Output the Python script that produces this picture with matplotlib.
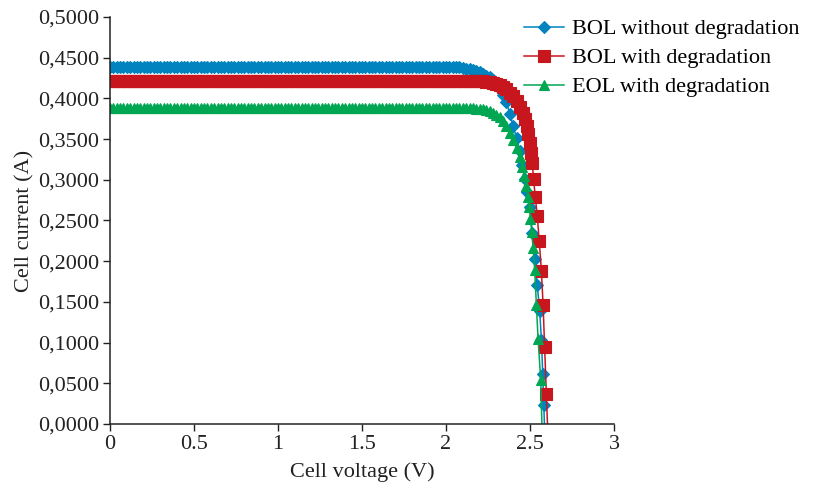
import matplotlib
matplotlib.use("Agg")
import matplotlib.pyplot as plt
from matplotlib.ticker import FixedLocator, FixedFormatter

plt.rcParams['font.family'] = ['Liberation Serif', 'DejaVu Serif']

# Shared voltage sweep (V) for the flat and knee part of the curves
voltage_sweep = [
    0.00, 0.02, 0.04, 0.06, 0.08, 0.10, 0.12, 0.14, 0.16, 0.18,
    0.20, 0.22, 0.24, 0.26, 0.28, 0.30, 0.32, 0.34, 0.36, 0.38,
    0.40, 0.42, 0.44, 0.46, 0.48, 0.50, 0.52, 0.54, 0.56, 0.58,
    0.60, 0.62, 0.64, 0.66, 0.68, 0.70, 0.72, 0.74, 0.76, 0.78,
    0.80, 0.82, 0.84, 0.86, 0.88, 0.90, 0.92, 0.94, 0.96, 0.98,
    1.00, 1.02, 1.04, 1.06, 1.08, 1.10, 1.12, 1.14, 1.16, 1.18,
    1.20, 1.22, 1.24, 1.26, 1.28, 1.30, 1.32, 1.34, 1.36, 1.38,
    1.40, 1.42, 1.44, 1.46, 1.48, 1.50, 1.52, 1.54, 1.56, 1.58,
    1.60, 1.62, 1.64, 1.66, 1.68, 1.70, 1.72, 1.74, 1.76, 1.78,
    1.80, 1.82, 1.84, 1.86, 1.88, 1.90, 1.92, 1.94, 1.96, 1.98,
    2.00, 2.02, 2.04, 2.06, 2.08, 2.10, 2.12, 2.14, 2.16, 2.18,
    2.20, 2.22, 2.24, 2.26, 2.28, 2.30, 2.32, 2.34, 2.36, 2.38,
    2.40, 2.42, 2.44,
]

bol_nodeg_current = [
    0.439, 0.439, 0.439, 0.439, 0.439, 0.439, 0.439, 0.439, 0.439, 0.439,
    0.439, 0.439, 0.439, 0.439, 0.439, 0.439, 0.439, 0.439, 0.439, 0.439,
    0.439, 0.439, 0.439, 0.439, 0.439, 0.439, 0.439, 0.439, 0.439, 0.439,
    0.439, 0.439, 0.439, 0.439, 0.439, 0.439, 0.439, 0.439, 0.439, 0.439,
    0.439, 0.439, 0.439, 0.439, 0.439, 0.439, 0.439, 0.439, 0.439, 0.439,
    0.439, 0.438, 0.438, 0.438, 0.438, 0.438, 0.438, 0.438, 0.438, 0.438,
    0.438, 0.438, 0.438, 0.438, 0.438, 0.438, 0.438, 0.438, 0.438, 0.438,
    0.438, 0.438, 0.438, 0.438, 0.438, 0.438, 0.438, 0.438, 0.438, 0.438,
    0.438, 0.438, 0.438, 0.438, 0.438, 0.438, 0.438, 0.438, 0.438, 0.438,
    0.438, 0.438, 0.438, 0.438, 0.438, 0.438, 0.438, 0.438, 0.438, 0.438,
    0.438, 0.438, 0.438, 0.438, 0.438, 0.437, 0.436, 0.436, 0.435, 0.434,
    0.432, 0.430, 0.428, 0.426, 0.423, 0.419, 0.412, 0.404, 0.395, 0.381,
    0.366, 0.351, 0.335,
]

bol_deg_current = [
    0.421, 0.421, 0.421, 0.421, 0.421, 0.421, 0.421, 0.421, 0.421, 0.421,
    0.421, 0.421, 0.421, 0.421, 0.421, 0.421, 0.421, 0.421, 0.421, 0.421,
    0.421, 0.421, 0.421, 0.421, 0.421, 0.421, 0.421, 0.421, 0.421, 0.421,
    0.421, 0.421, 0.421, 0.421, 0.421, 0.421, 0.421, 0.421, 0.421, 0.421,
    0.421, 0.421, 0.421, 0.421, 0.421, 0.421, 0.421, 0.421, 0.421, 0.421,
    0.421, 0.421, 0.421, 0.421, 0.421, 0.421, 0.421, 0.421, 0.421, 0.421,
    0.421, 0.421, 0.421, 0.421, 0.421, 0.421, 0.421, 0.421, 0.421, 0.421,
    0.421, 0.421, 0.421, 0.421, 0.421, 0.421, 0.421, 0.421, 0.421, 0.421,
    0.421, 0.421, 0.421, 0.421, 0.421, 0.421, 0.421, 0.421, 0.421, 0.421,
    0.421, 0.421, 0.421, 0.421, 0.421, 0.421, 0.421, 0.421, 0.421, 0.421,
    0.421, 0.421, 0.421, 0.421, 0.421, 0.421, 0.421, 0.421, 0.421, 0.421,
    0.421, 0.421, 0.420, 0.420, 0.419, 0.418, 0.416, 0.414, 0.411, 0.407,
    0.403, 0.397, 0.390,
]

eol_deg_current = [
    0.388, 0.388, 0.388, 0.388, 0.388, 0.388, 0.388, 0.388, 0.388, 0.388,
    0.388, 0.388, 0.388, 0.388, 0.388, 0.388, 0.388, 0.388, 0.388, 0.388,
    0.388, 0.388, 0.388, 0.388, 0.388, 0.388, 0.388, 0.388, 0.388, 0.388,
    0.388, 0.388, 0.388, 0.388, 0.388, 0.388, 0.388, 0.388, 0.388, 0.388,
    0.388, 0.388, 0.388, 0.388, 0.388, 0.388, 0.388, 0.388, 0.388, 0.388,
    0.388, 0.388, 0.388, 0.388, 0.388, 0.388, 0.388, 0.388, 0.388, 0.388,
    0.388, 0.388, 0.388, 0.388, 0.388, 0.388, 0.388, 0.388, 0.388, 0.388,
    0.388, 0.388, 0.388, 0.388, 0.388, 0.388, 0.388, 0.388, 0.388, 0.388,
    0.388, 0.388, 0.388, 0.388, 0.388, 0.388, 0.388, 0.388, 0.388, 0.388,
    0.388, 0.388, 0.388, 0.388, 0.388, 0.388, 0.388, 0.388, 0.388, 0.388,
    0.388, 0.388, 0.388, 0.388, 0.388, 0.388, 0.388, 0.388, 0.388, 0.387,
    0.387, 0.387, 0.386, 0.384, 0.382, 0.380, 0.377, 0.372, 0.366, 0.358,
    0.349, 0.339, 0.328,
]

# Steep tails beyond the shared sweep (the last point of each closes the line at 0 A)
bol_nodeg_tail_v = [2.455, 2.470, 2.485, 2.500, 2.514, 2.530, 2.543, 2.558, 2.568, 2.576, 2.582, 2.586]
bol_nodeg_tail_i = [0.318, 0.301, 0.285, 0.267, 0.235, 0.203, 0.171, 0.139, 0.103, 0.062, 0.023, 0.000]

bol_deg_tail_v = [2.460, 2.470, 2.480, 2.490, 2.500, 2.508, 2.514, 2.521, 2.532, 2.543, 2.555, 2.568, 2.578, 2.587, 2.597, 2.604]
bol_deg_tail_i = [0.382, 0.375, 0.366, 0.356, 0.345, 0.333, 0.321, 0.301, 0.279, 0.256, 0.225, 0.188, 0.146, 0.095, 0.037, 0.000]

eol_deg_tail_v = [2.455, 2.466, 2.476, 2.486, 2.496, 2.503, 2.510, 2.519, 2.528, 2.538, 2.548, 2.564, 2.571]
eol_deg_tail_i = [0.316, 0.305, 0.292, 0.279, 0.267, 0.252, 0.236, 0.216, 0.189, 0.146, 0.105, 0.054, 0.000]

series_labels = ["BOL without degradation", "BOL with degradation", "EOL with degradation"]
series_colors = ["#0083BF", "#C8161E", "#00A651"]
series_markers = ["D", "s", "^"]
series_msizes = [6.0, 8.0, 7.5]

x_ticks = [0, 0.5, 1, 1.5, 2, 2.5, 3]
x_tick_labels = ["0", "0.5", "1", "1.5", "2", "2.5", "3"]
y_ticks = [0.0, 0.05, 0.10, 0.15, 0.20, 0.25, 0.30, 0.35, 0.40, 0.45, 0.50]
y_tick_labels = ["0,0000", "0,0500", "0,1000", "0,1500", "0,2000", "0,2500",
                 "0,3000", "0,3500", "0,4000", "0,4500", "0,5000"]

fig = plt.figure(figsize=(8.39, 4.93), dpi=100)
ax = fig.add_axes([0.1311, 0.1400, 0.6007, 0.8256])

all_v = [voltage_sweep + bol_nodeg_tail_v,
         voltage_sweep + bol_deg_tail_v,
         voltage_sweep + eol_deg_tail_v]
all_i = [bol_nodeg_current + bol_nodeg_tail_i,
         bol_deg_current + bol_deg_tail_i,
         eol_deg_current + eol_deg_tail_i]

handles = []
for v, i, lab, col, mk, ms in zip(all_v, all_i, series_labels, series_colors,
                                  series_markers, series_msizes):
    h, = ax.plot(v, i, color=col, lw=1.1, marker=mk, markersize=ms,
                 markerfacecolor=col, markeredgecolor=col, markeredgewidth=0.8,
                 markevery=list(range(len(v) - 1)), label=lab)
    handles.append(h)

ax.set_xlim(0, 3)
ax.set_ylim(0, 0.5)
ax.xaxis.set_major_locator(FixedLocator(x_ticks))
ax.xaxis.set_major_formatter(FixedFormatter(x_tick_labels))
ax.yaxis.set_major_locator(FixedLocator(y_ticks))
ax.yaxis.set_major_formatter(FixedFormatter(y_tick_labels))

for s in ["top", "right"]:
    ax.spines[s].set_visible(False)
for s in ["left", "bottom"]:
    ax.spines[s].set_linewidth(1.1)
    ax.spines[s].set_color("#222222")

ax.tick_params(direction="out", length=5, width=1.0, labelsize=16, colors="#222222", pad=3)
ax.set_xlabel("Cell voltage (V)", fontsize=16, labelpad=6, color="#222222")
ax.set_ylabel("Cell current (A)", fontsize=16, labelpad=2, color="#222222")

fig.legend(handles, series_labels, loc="upper left", bbox_to_anchor=(0.624, 0.962),
           frameon=False, fontsize=16, handlelength=1.8, handletextpad=0.4,
           labelspacing=0.38, borderpad=0, borderaxespad=0)

fig.savefig("out.png", dpi=100)
